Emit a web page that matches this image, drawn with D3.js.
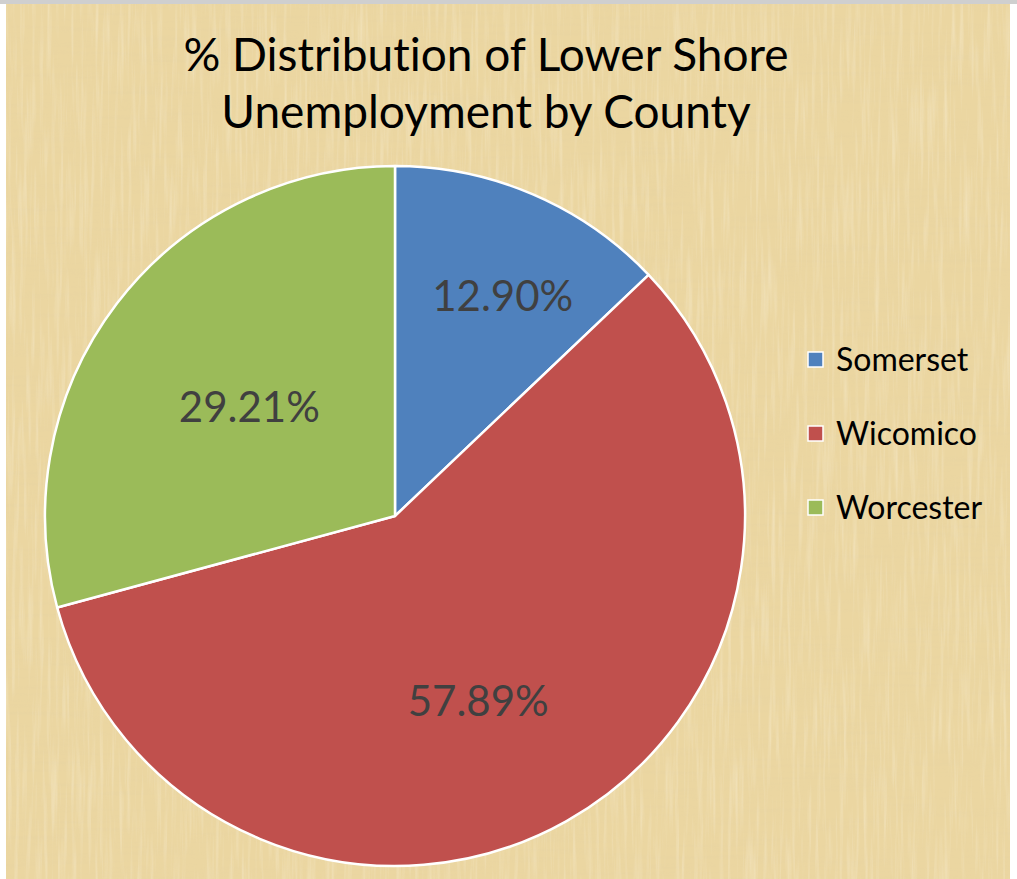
<!DOCTYPE html>
<html><head><meta charset="utf-8">
<script src="https://cdn.jsdelivr.net/npm/d3@7"></script>
<style>html,body{margin:0;padding:0;background:#fff;overflow:hidden} text{font-variant-ligatures:none;font-feature-settings:"liga" 0}</style>
</head><body>
<script>
const counties = ["Somerset", "Wicomico", "Worcester"];
const shares = [12.90, 57.89, 29.21];
const colors = ["#4F81BD", "#C0504D", "#9BBB59"];
const titleLines = ["% Distribution of Lower Shore", "Unemployment by County"];

const W = 1017, H = 879;
const FONT = "Lato, 'Open Sans', sans-serif";
const svg = d3.select("body").append("svg").attr("width", W).attr("height", H);
const defs = svg.append("defs");

// papyrus-like background texture
const f = defs.append("filter").attr("id", "fib").attr("x", 0).attr("y", 0).attr("width", "100%").attr("height", "100%");
f.append("feTurbulence").attr("type", "fractalNoise").attr("baseFrequency", "0.01 0.25").attr("numOctaves", 3).attr("seed", 4).attr("result", "v");
f.append("feColorMatrix").attr("in", "v").attr("type", "matrix")
  .attr("values", "0 0 0 0 0.78  0 0 0 0 0.64  0 0 0 0 0.36  1.5 0 0 0 -0.7").attr("result", "vc");
f.append("feTurbulence").attr("type", "fractalNoise").attr("baseFrequency", "0.25 0.012").attr("numOctaves", 3).attr("seed", 9).attr("result", "h");
f.append("feColorMatrix").attr("in", "h").attr("type", "matrix")
  .attr("values", "0 0 0 0 1  0 0 0 0 0.96  0 0 0 0 0.84  1.4 0 0 0 -0.66").attr("result", "hc");
f.append("feMerge").selectAll("feMergeNode").data(["vc", "hc"]).join("feMergeNode").attr("in", d => d);

svg.append("rect").attr("x", 0).attr("y", 0).attr("width", W).attr("height", 4).attr("fill", "#cfcfcf");
svg.append("rect").attr("x", 6).attr("y", 4).attr("width", 1004).attr("height", H - 4).attr("fill", "#EBD6A1");
svg.append("rect").attr("x", 6).attr("y", 4).attr("width", 1004).attr("height", H - 4).attr("fill", "#EBD6A1").attr("filter", "url(#fib)").attr("opacity", 0.45);

// title
svg.append("text").attr("text-anchor", "middle").attr("font-family", FONT)
  .attr("font-size", 46).attr("fill", "#000")
  .selectAll("tspan").data(titleLines).join("tspan")
  .attr("x", 486).attr("y", (d, i) => 71 + i * 57).text(d => d);

// pie
const cx = 395, cy = 516, R = 350;
const pie = d3.pie().sort(null).value(d => d);
const arcs = pie(shares);
const arc = d3.arc().innerRadius(0).outerRadius(R);
const g = svg.append("g").attr("transform", `translate(${cx},${cy})`);
g.selectAll("path").data(arcs).join("path")
  .attr("d", arc).attr("fill", (d, i) => colors[i])
  .attr("stroke", "#fff").attr("stroke-width", 2.5).attr("stroke-linejoin", "round");

// best-fit style label placement (radius fraction / angle nudge per slice, layout only)
const labelFit = { Somerset: [0.70, 0.05], Wicomico: [0.58, 0.09], Worcester: [0.52, -0.01] };
g.selectAll("text.lbl").data(arcs).join("text").attr("class", "lbl")
  .attr("transform", (d, i) => {
    const [rf, da] = labelFit[counties[i]];
    const a = (d.startAngle + d.endAngle) / 2 + da;
    const r = R * rf;
    return `translate(${r * Math.sin(a)},${-r * Math.cos(a)})`;
  })
  .attr("text-anchor", "middle").attr("dy", "0.35em")
  .attr("font-family", FONT).attr("font-size", 42).attr("fill", "#404040")
  .text(d => d.data.toFixed(2) + "%");

// legend
const leg = svg.append("g").attr("transform", "translate(808,352)");
const row = leg.selectAll("g").data(counties).join("g").attr("transform", (d, i) => `translate(0,${i * 74})`);
row.append("rect").attr("width", 15).attr("height", 15).attr("fill", (d, i) => colors[i]).attr("stroke", "#fff").attr("stroke-width", 1.5);
row.append("text").attr("x", 28).attr("y", 8).attr("dy", "0.35em")
  .attr("font-family", FONT).attr("font-size", 32).attr("fill", "#000").text(d => d);
</script>
</body></html>
